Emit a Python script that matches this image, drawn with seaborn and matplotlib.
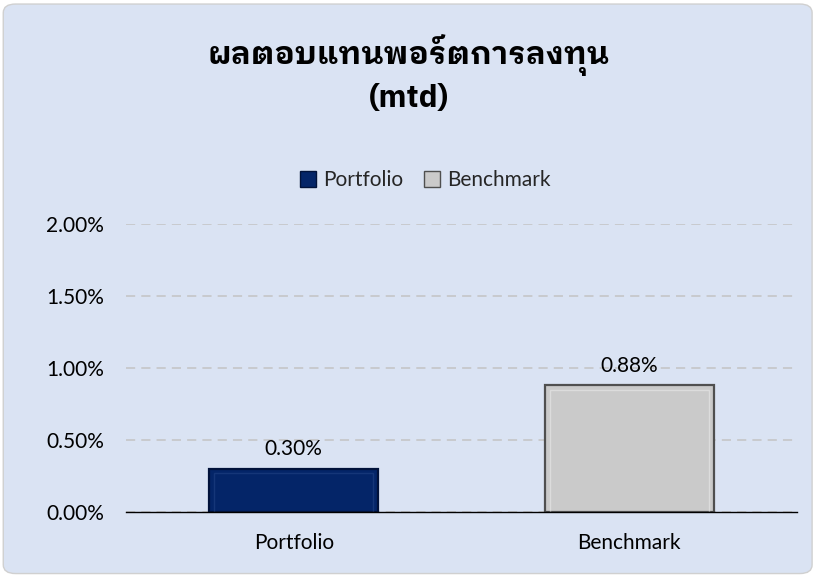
import matplotlib
matplotlib.use("Agg")
import matplotlib.pyplot as plt
import pandas as pd
import seaborn as sns
from matplotlib.patches import FancyBboxPatch, Rectangle
from matplotlib.ticker import FuncFormatter
from matplotlib.lines import Line2D

categories = ["Portfolio", "Benchmark"]
returns = [0.0030, 0.0088]
bar_colors = ["#042568", "#CACACA"]
edge_colors = ["#01123A", "#4F4F4F"]
bevel_colors = ["#2A4C8C", "#F2F2F2"]
title_text = "ผลตอบแทนพอร์ตการลงทุน\n(mtd)"

sns.set_theme(style="white")
plt.rcParams["font.family"] = ["Lato", "DejaVu Sans"]

bg = "#DAE3F3"
fig = plt.figure(figsize=(8.17, 5.77), dpi=100)
fig.patch.set_facecolor("white")
frame = FancyBboxPatch((0.004, 0.006), 0.99, 0.987, boxstyle="round,pad=0,rounding_size=0.015",
                       transform=fig.transFigure, facecolor=bg, edgecolor="#D0D0D0",
                       linewidth=1, zorder=-10)
fig.patches.append(frame)

ax = fig.add_axes([0.1542, 0.1127, 0.8213, 0.4991])
ax.set_facecolor("none")

data = pd.DataFrame({"cat": categories, "ret": returns})
sns.barplot(data=data, x="cat", y="ret", hue="cat", palette=bar_colors, width=0.504,
            legend=False, ax=ax, zorder=3, saturation=1)
bars = list(ax.patches)
for patch, ec, bc in zip(bars, edge_colors, bevel_colors):
    patch.set_edgecolor(ec)
    patch.set_linewidth(1.6)
    # light inner rim to hint at the bevel
    x, w, h = patch.get_x(), patch.get_width(), patch.get_height()
    ax.add_patch(Rectangle((x + w * 0.03, 0), w * 0.94, h - 0.0003,
                           fill=False, edgecolor=bc, linewidth=1.0, alpha=0.45, zorder=4))

ax.set_ylim(0, 0.02)
ax.set_xlim(-0.5, 1.5)
ax.set_yticks([0, 0.005, 0.01, 0.015, 0.02])
ax.yaxis.set_major_formatter(FuncFormatter(lambda v, _: f"{v * 100:.2f}%"))
ax.yaxis.grid(True, linestyle=(0, (6, 4)), color="#C3C3C3", linewidth=1.1)
ax.set_axisbelow(True)
for side in ["top", "right", "left"]:
    ax.spines[side].set_visible(False)
ax.spines["bottom"].set_color("#000000")
ax.spines["bottom"].set_linewidth(1)
ax.spines["bottom"].set_zorder(5)
ax.tick_params(axis="y", length=0, labelsize=15, colors="#000000", pad=16)
ax.tick_params(axis="x", length=0, labelsize=15, colors="#000000", pad=15)
ax.set_xlabel("")
ax.set_ylabel("")

for patch, val in zip(bars, returns):
    ax.annotate(f"{val * 100:.2f}%", (patch.get_x() + patch.get_width() / 2, val),
                xytext=(0, 7), textcoords="offset points", ha="center", va="bottom",
                fontsize=15, color="#000000")

fig.text(0.5, 0.873, title_text, ha="center", va="center", fontsize=22.5, fontweight="bold",
         linespacing=1.35, color="#000000",
         family=["IBM Plex Sans Thai Looped", "DejaVu Sans"])

handles = [Line2D([], [], marker="s", linestyle="none", markersize=11,
                  markerfacecolor=c, markeredgecolor=e) for c, e in zip(bar_colors, edge_colors)]
fig.legend(handles, categories, loc="center", bbox_to_anchor=(0.519, 0.688), ncol=2,
           frameon=False, fontsize=15, handletextpad=0.2, columnspacing=0.9,
           handlelength=1.0)

fig.savefig("out.png", dpi=100, facecolor="white")
